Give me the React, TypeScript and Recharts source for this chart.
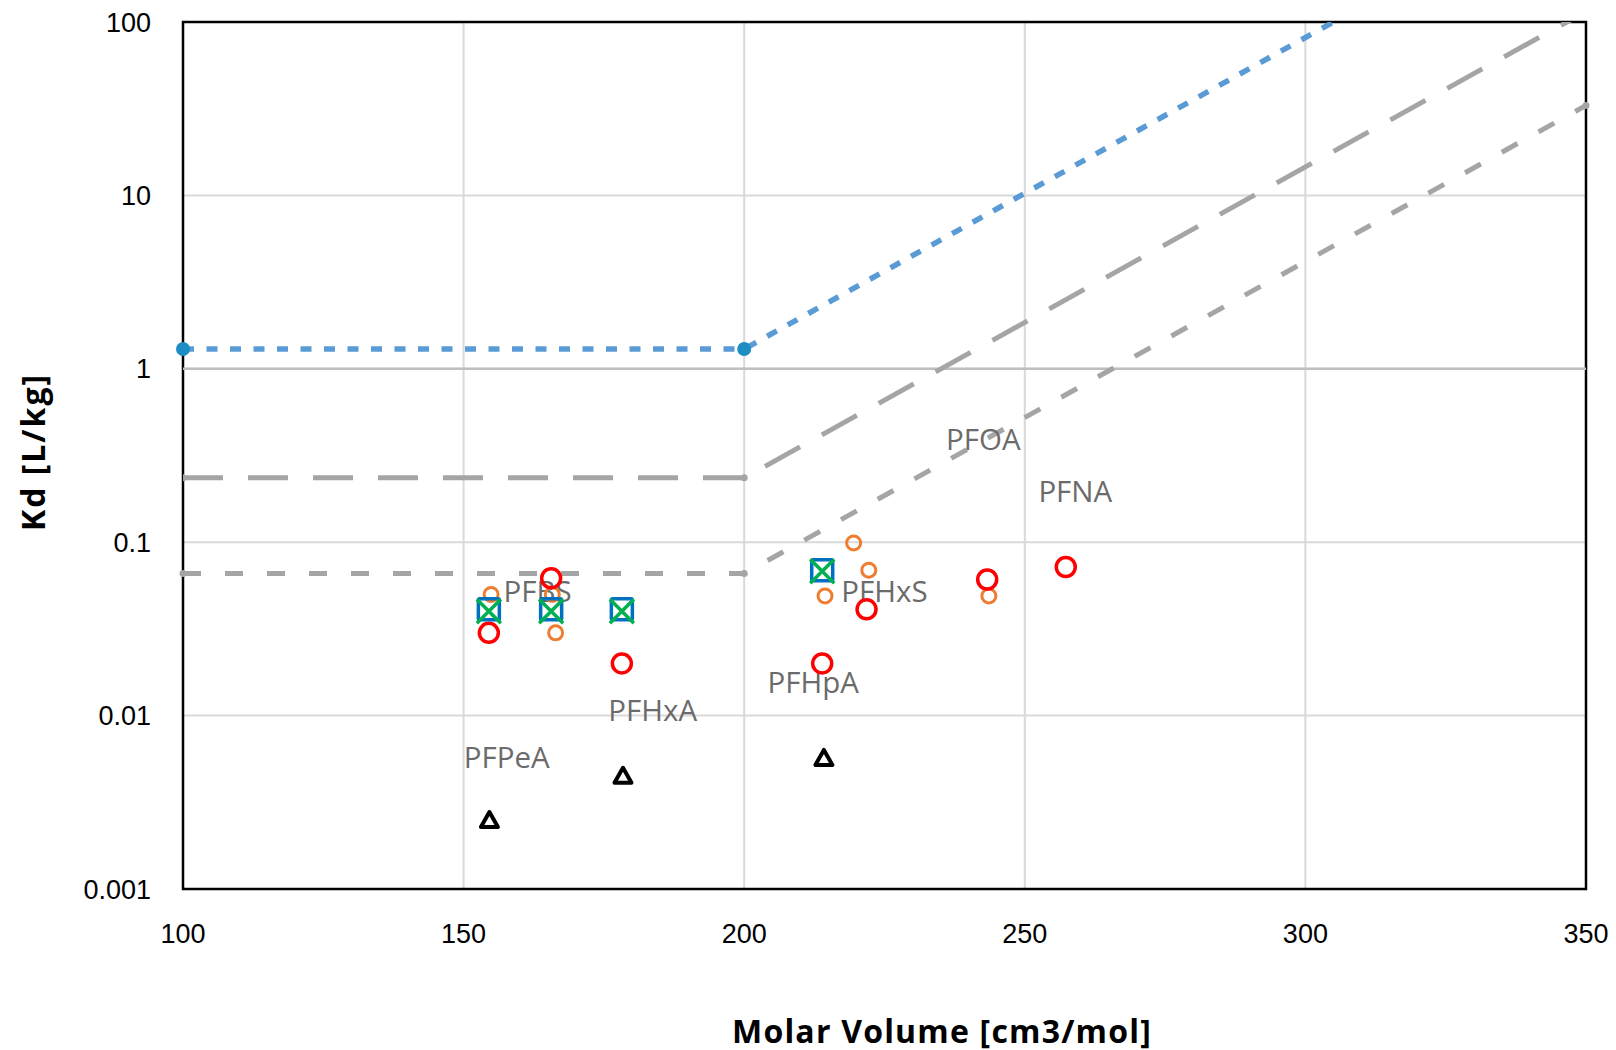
import React from "react";
import {
  ComposedChart,
  Line,
  Scatter,
  XAxis,
  YAxis,
  CartesianGrid,
  ReferenceLine,
  ReferenceArea,
} from "recharts";

interface Pt {
  x: number;
  y: number;
}

interface LabelPt extends Pt {
  name: string;
}

const xTicks = [100, 150, 200, 250, 300, 350];
const yTicks = [0.001, 0.01, 0.1, 1, 10, 100];

// model lines (flat below 200 cm3/mol, then rising)
const blueLimit: Pt[] = [
  { x: 100, y: 1.3 },
  { x: 200, y: 1.3 },
  { x: 305, y: 100 },
];
// only the flat part of the blue line carries markers
const blueMarkers: Pt[] = [
  { x: 100, y: 1.3 },
  { x: 200, y: 1.3 },
];
const grayLongDash: Pt[] = [
  { x: 100, y: 0.235 },
  { x: 200, y: 0.235 },
  { x: 350, y: 115 },
];
const grayShortDash: Pt[] = [
  { x: 100, y: 0.066 },
  { x: 200, y: 0.066 },
  { x: 350, y: 33 },
];

// measured points
const blueSquares: Pt[] = [
  { x: 154.5, y: 0.041 },
  { x: 165.6, y: 0.041 },
  { x: 178.2, y: 0.041 },
  { x: 213.9, y: 0.069 },
];
const greenCrosses: Pt[] = [
  { x: 154.5, y: 0.04 },
  { x: 165.6, y: 0.04 },
  { x: 178.2, y: 0.04 },
  { x: 213.9, y: 0.068 },
];
const redCircles: Pt[] = [
  { x: 154.5, y: 0.03 },
  { x: 165.6, y: 0.062 },
  { x: 178.2, y: 0.02 },
  { x: 213.9, y: 0.02 },
  { x: 221.8, y: 0.041 },
  { x: 243.3, y: 0.061 },
  { x: 257.3, y: 0.072 },
];
const orangeCircles: Pt[] = [
  { x: 154.9, y: 0.05 },
  { x: 165.8, y: 0.05 },
  { x: 166.4, y: 0.03 },
  { x: 219.5, y: 0.099 },
  { x: 222.2, y: 0.069 },
  { x: 214.4, y: 0.049 },
  { x: 243.6, y: 0.049 },
];
const blackTriangles: Pt[] = [
  { x: 154.6, y: 0.0025 },
  { x: 178.4, y: 0.0045 },
  { x: 214.2, y: 0.0057 },
];

const compoundLabels: LabelPt[] = [
  { name: "PFBS", x: 163.2, y: 0.053 },
  { name: "PFHxS", x: 225.0, y: 0.053 },
  { name: "PFOA", x: 242.6, y: 0.395 },
  { name: "PFNA", x: 259.0, y: 0.199 },
  { name: "PFHxA", x: 183.7, y: 0.0108 },
  { name: "PFHpA", x: 212.3, y: 0.0158 },
  { name: "PFPeA", x: 157.7, y: 0.00584 },
];

const TICK_FONT = "'Liberation Sans', Arial, sans-serif";
const LABEL_FONT = "'Open Sans', 'Noto Sans', sans-serif";

const SquareShape = (props: any) => {
  const { cx, cy } = props;
  return (
    <rect
      x={cx - 10.5}
      y={cy - 10.5}
      width={21}
      height={21}
      rx={1.5}
      fill="none"
      stroke="#0070C0"
      strokeWidth={3.5}
    />
  );
};

const CrossShape = (props: any) => {
  const { cx, cy } = props;
  const d = 12;
  return (
    <path
      d={`M${cx - d},${cy - d}L${cx + d},${cy + d}M${cx + d},${cy - d}L${cx - d},${cy + d}`}
      stroke="#00B050"
      strokeWidth={3.5}
      fill="none"
    />
  );
};

const RedCircle = (props: any) => {
  const { cx, cy } = props;
  return <circle cx={cx} cy={cy} r={9.5} fill="none" stroke="#FF0000" strokeWidth={3.5} />;
};

const OrangeCircle = (props: any) => {
  const { cx, cy } = props;
  return <circle cx={cx} cy={cy} r={7} fill="none" stroke="#ED7D31" strokeWidth={3} />;
};

const Triangle = (props: any) => {
  const { cx, cy } = props;
  return (
    <path
      d={`M${cx},${cy - 8}L${cx + 8.5},${cy + 7}L${cx - 8.5},${cy + 7}Z`}
      fill="none"
      stroke="#000"
      strokeWidth={4}
      strokeLinejoin="round"
    />
  );
};

const LabelShape = (props: any) => {
  const { cx, cy, payload } = props;
  return (
    <text
      x={cx}
      y={cy}
      textAnchor="middle"
      dominantBaseline="central"
      fontSize={29.5}
      fontFamily={LABEL_FONT}
      fill="#6b6b6b"
    >
      {payload.name}
    </text>
  );
};

const App: React.FC = () => {
  return (
    <div style={{ position: "absolute", left: 0, top: 0, width: 1616, height: 1050, background: "#fff" }}>
      <ComposedChart
        width={1616}
        height={1050}
        margin={{ top: 22, right: 30, bottom: 61, left: 60 }}
      >
        <CartesianGrid stroke="#d9d9d9" strokeWidth={2} />
        <XAxis
          type="number"
          dataKey="x"
          domain={[100, 350]}
          ticks={xTicks}
          allowDataOverflow
          height={100}
          axisLine={false}
          tickLine={false}
          tickMargin={29}
          tick={{ fill: "#000", fontSize: 27, fontFamily: TICK_FONT }}
        />
        <YAxis
          type="number"
          dataKey="y"
          scale="log"
          domain={[0.001, 100]}
          ticks={yTicks}
          allowDataOverflow
          width={123}
          axisLine={false}
          tickLine={false}
          tickMargin={26}
          tickFormatter={(v: number) => String(v)}
          tick={{ fill: "#000", fontSize: 27, fontFamily: TICK_FONT }}
        />
        <ReferenceLine y={1} stroke="#bfbfbf" strokeWidth={2.5} />
        <ReferenceArea
          x1={100}
          x2={350}
          y1={0.001}
          y2={100}
          fill="none"
          fillOpacity={0}
          stroke="#000"
          strokeWidth={2.5}
        />
        <Line
          data={grayLongDash}
          dataKey="y"
          type="linear"
          stroke="#A5A5A5"
          strokeWidth={5}
          strokeDasharray="40 25"
          dot={{ r: 3.5, fill: "#A5A5A5", stroke: "none" }}
          isAnimationActive={false}
        />
        <Line
          data={grayShortDash}
          dataKey="y"
          type="linear"
          stroke="#A5A5A5"
          strokeWidth={5}
          strokeDasharray="18 24"
          dot={{ r: 3.5, fill: "#A5A5A5", stroke: "none", clipDot: false } as any}
          isAnimationActive={false}
        />
        <Line
          data={blueLimit}
          dataKey="y"
          type="linear"
          stroke="#5B9BD5"
          strokeWidth={5.5}
          strokeDasharray="11 12.5"
          dot={false}
          isAnimationActive={false}
        />
        <Line
          data={blueMarkers}
          dataKey="y"
          type="linear"
          stroke="none"
          strokeWidth={0}
          dot={{ r: 7, fill: "#1E8DC4", stroke: "none", clipDot: false } as any}
          isAnimationActive={false}
        />
        <Scatter data={compoundLabels} dataKey="y" shape={LabelShape} isAnimationActive={false} />
        <Scatter data={orangeCircles} dataKey="y" shape={OrangeCircle} isAnimationActive={false} />
        <Scatter data={redCircles} dataKey="y" shape={RedCircle} isAnimationActive={false} />
        <Scatter data={blueSquares} dataKey="y" shape={SquareShape} isAnimationActive={false} />
        <Scatter data={greenCrosses} dataKey="y" shape={CrossShape} isAnimationActive={false} />
        <Scatter data={blackTriangles} dataKey="y" shape={Triangle} isAnimationActive={false} />
      </ComposedChart>
      <div
        style={{
          position: "absolute",
          left: 942,
          top: 1030,
          transform: "translate(-50%, -50%)",
          fontFamily: LABEL_FONT,
          fontWeight: 700,
          fontSize: 32,
          letterSpacing: "1.2px",
          whiteSpace: "nowrap",
          color: "#000",
        }}
      >
        Molar Volume [cm3/mol]
      </div>
      <div
        style={{
          position: "absolute",
          left: 32,
          top: 452,
          transform: "translate(-50%, -50%) rotate(-90deg)",
          fontFamily: LABEL_FONT,
          fontWeight: 700,
          fontSize: 32,
          letterSpacing: "2px",
          whiteSpace: "nowrap",
          color: "#000",
        }}
      >
        Kd [L/kg]
      </div>
    </div>
  );
};

export default App;
